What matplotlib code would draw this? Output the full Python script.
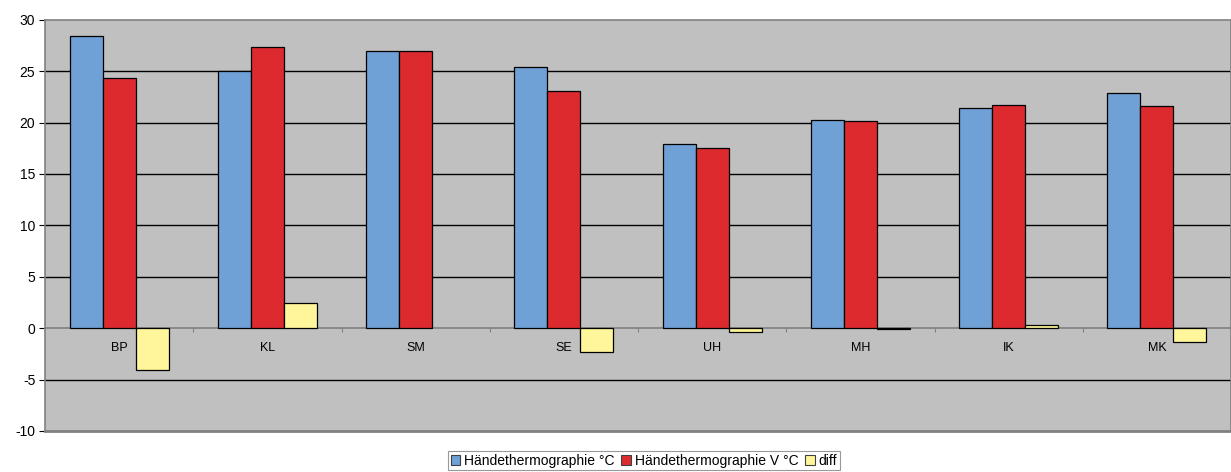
# Händethermographie: Vergleich der beiden Messungen pro Person

import numpy as np
import matplotlib.pyplot as plt

plt.rcParams['font.family'] = ['Liberation Sans', 'DejaVu Sans']
plt.rcParams['axes.unicode_minus'] = False

labels = ['BP', 'KL', 'SM', 'SE', 'UH', 'MH', 'IK', 'MK']
temp = [28.4, 25.0, 27.0, 25.45, 17.9, 20.25, 21.4, 22.9]
temp_v = [24.3, 27.4, 27.0, 23.1, 17.5, 20.2, 21.7, 21.6]
diff = [-4.1, 2.4, 0.0, -2.35, -0.35, -0.05, 0.3, -1.3]

series_names = ['Händethermographie °C', 'Händethermographie V °C', 'diff']
colors = ['#6fa0d6', '#dc2a2e', '#fff59a']

f = plt.figure(figsize=(12.31, 4.72), dpi=100)
ax = f.add_axes([0.0366, 0.087, 0.9634, 0.871])
ax.set_facecolor('#c0c0c0')

x = np.arange(len(labels))
w = 0.223
for k, (vals, c, name) in enumerate(zip([temp, temp_v, diff], colors, series_names)):
    lw = [0.9 if v != 0 else 0 for v in vals]
    ax.bar(x + (k - 1) * w, vals, w, color=c, edgecolor='black', linewidth=lw,
           label=name, zorder=3)

# horizontal grid lines between the borders
for yv in range(-5, 30, 5):
    if yv != 0:
        ax.axhline(yv, color='black', linewidth=1.0, zorder=1)

ax.set_xlim(-0.5, len(labels) - 0.5)
ax.set_ylim(-10, 30)
ax.set_yticks(range(-10, 31, 5))
ax.tick_params(axis='y', length=4, width=0.8, color='black', labelsize=10, pad=3)

# category axis sits at zero, labels under it, ticks at group boundaries
ax.spines['bottom'].set_position(('data', 0))
ax.set_xticks(x)
ax.set_xticklabels(labels)
ax.set_xticks(np.arange(0.5, len(labels) - 0.5, 1), minor=True)
ax.tick_params(axis='x', which='major', length=0, labelsize=9, pad=10)
ax.tick_params(axis='x', which='minor', length=3, width=0.8, color='#808080')

for s in ['bottom', 'top', 'right', 'left']:
    ax.spines[s].set_color('#808080')
    ax.spines[s].set_linewidth(1.2)
ax.axhline(-10, color='#808080', linewidth=2.0, zorder=4, clip_on=False)
ax.spines['left'].set_zorder(5)

leg = f.legend(loc='center', bbox_to_anchor=(0.523, 0.024), ncol=3,
               fontsize=10, frameon=True, fancybox=False, edgecolor='#808080',
               handlelength=0.7, handleheight=0.7, handletextpad=0.25,
               columnspacing=0.5, borderpad=0.2, borderaxespad=0)
leg.get_frame().set_linewidth(0.8)
for h in leg.legend_handles:
    h.set_edgecolor('#404040')
    h.set_linewidth(0.8)

f.savefig('out.png', dpi=100)
